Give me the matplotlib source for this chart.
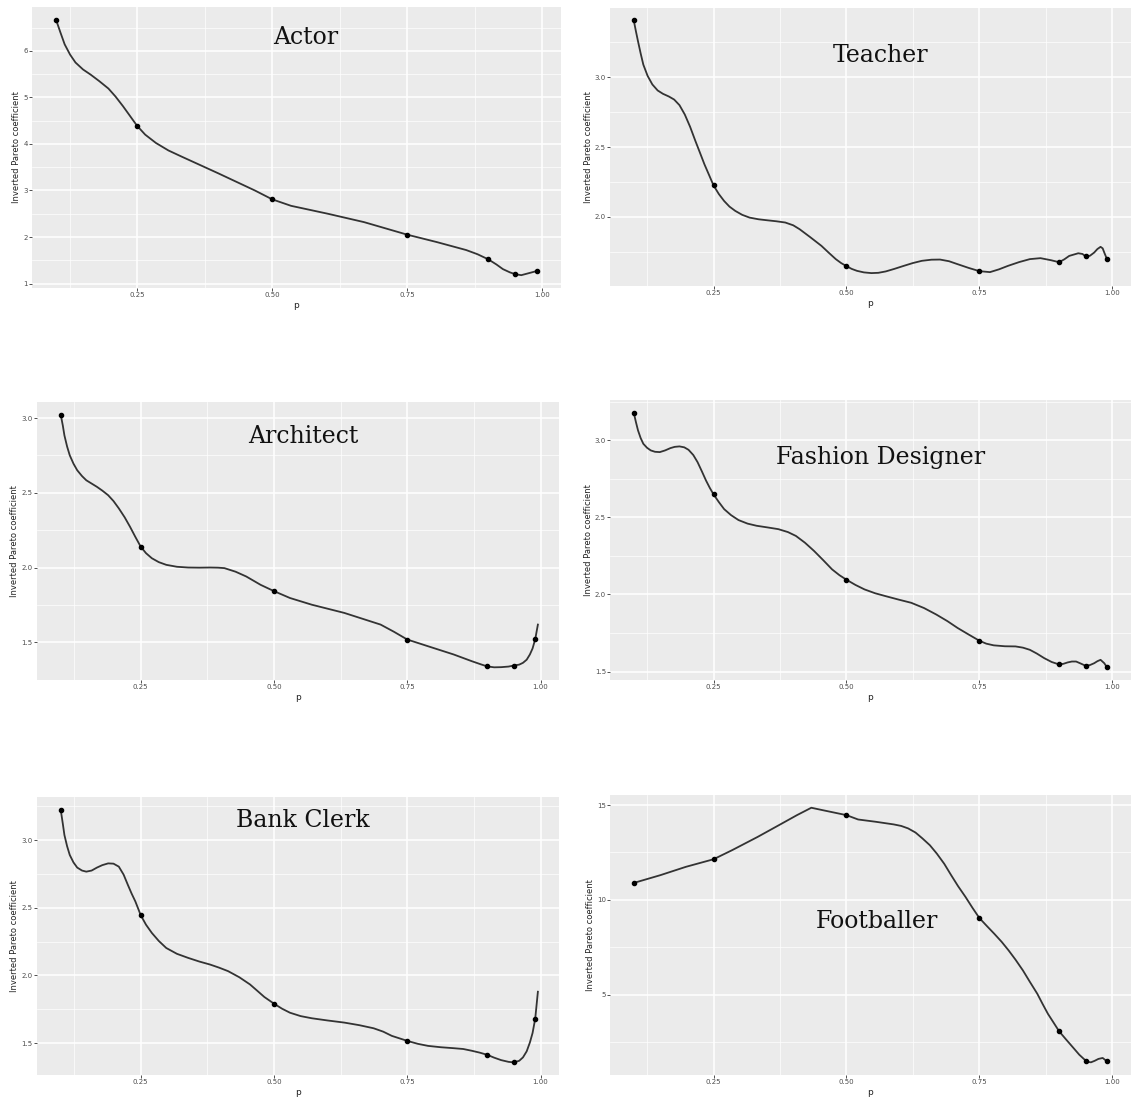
import numpy as np
import matplotlib.pyplot as plt
from matplotlib.ticker import FixedLocator

# quantile levels where the points sit
p_pts = [0.10, 0.25, 0.50, 0.75, 0.90, 0.95, 0.99]

# point values
actor_pts = [6.67, 4.39, 2.81, 2.05, 1.52, 1.20, 1.27]
teacher_pts = [3.407, 2.226, 1.648, 1.612, 1.676, 1.717, 1.698]
architect_pts = [3.024, 2.14, 1.842, 1.518, 1.338, 1.344, 1.52]
fashion_pts = [3.18, 2.65, 2.096, 1.70, 1.546, 1.537, 1.528]
clerk_pts = [3.225, 2.446, 1.792, 1.517, 1.414, 1.358, 1.681]
football_pts = [10.89, 12.14, 14.47, 9.04, 3.06, 1.51, 1.47]

# smoothed curves
actor_cx = [0.10, 0.108, 0.116, 0.126, 0.136, 0.15, 0.164, 0.18, 0.197, 0.21, 0.224, 0.237, 0.25,
            0.265, 0.285, 0.308, 0.332, 0.40, 0.468, 0.50, 0.535, 0.603, 0.67, 0.75, 0.805,
            0.859, 0.88, 0.90, 0.915, 0.927, 0.94, 0.95, 0.961, 0.974, 0.99]
actor_cy = [6.67, 6.40, 6.14, 5.92, 5.75, 5.60, 5.49, 5.35, 5.19, 5.02, 4.81, 4.60, 4.39,
            4.20, 4.02, 3.86, 3.73, 3.37, 3.00, 2.81, 2.67, 2.50, 2.32, 2.05, 1.89,
            1.72, 1.63, 1.52, 1.41, 1.31, 1.24, 1.20, 1.18, 1.22, 1.27]

teacher_cx = [0.10, 0.104, 0.108, 0.113, 0.118, 0.126, 0.135, 0.145, 0.155, 0.166, 0.176, 0.186,
              0.196, 0.206, 0.216, 0.225, 0.233, 0.242, 0.25, 0.26, 0.27, 0.28, 0.291,
              0.304, 0.318, 0.335, 0.351, 0.368, 0.385, 0.40, 0.412, 0.432, 0.453, 0.467, 0.48,
              0.49, 0.50, 0.51, 0.52, 0.533, 0.547, 0.56, 0.574, 0.59, 0.608, 0.625, 0.642,
              0.66, 0.676, 0.693, 0.709, 0.73, 0.75, 0.77, 0.787, 0.804, 0.825, 0.845, 0.865,
              0.885, 0.90, 0.91, 0.919, 0.936, 0.944, 0.95, 0.958, 0.966, 0.972, 0.978, 0.982,
              0.985, 0.99]
teacher_cy = [3.407, 3.33, 3.257, 3.17, 3.09, 3.01, 2.948, 2.905, 2.881, 2.862, 2.84, 2.80,
              2.733, 2.645, 2.543, 2.455, 2.376, 2.297, 2.226, 2.164, 2.114, 2.074, 2.043,
              2.015, 1.995, 1.983, 1.976, 1.969, 1.96, 1.94, 1.912, 1.855, 1.793, 1.743, 1.698,
              1.67, 1.648, 1.628, 1.614, 1.603, 1.598, 1.600, 1.61, 1.628, 1.65, 1.670, 1.686,
              1.694, 1.695, 1.683, 1.662, 1.635, 1.612, 1.605, 1.625, 1.65, 1.677, 1.698, 1.705,
              1.69, 1.676, 1.697, 1.721, 1.74, 1.735, 1.717, 1.722, 1.745, 1.770, 1.786, 1.775,
              1.745, 1.698]

architect_cx = [0.10, 0.104, 0.107, 0.112, 0.117, 0.124, 0.131, 0.14, 0.148, 0.158, 0.168, 0.178,
                0.189, 0.199, 0.209, 0.22, 0.23, 0.24, 0.25, 0.26, 0.271, 0.284, 0.298,
                0.318, 0.339, 0.36, 0.38, 0.395, 0.407, 0.428, 0.448, 0.462, 0.475, 0.50, 0.53,
                0.571, 0.632, 0.70, 0.725, 0.75, 0.789, 0.837, 0.871, 0.888, 0.90, 0.913, 0.926,
                0.94, 0.95, 0.96, 0.967, 0.974, 0.98, 0.985, 0.99, 0.995]
architect_cy = [3.024, 2.95, 2.884, 2.81, 2.751, 2.695, 2.651, 2.612, 2.584, 2.562, 2.54, 2.515,
                2.484, 2.445, 2.396, 2.336, 2.273, 2.205, 2.14, 2.096, 2.062, 2.036, 2.018,
                2.005, 2.0, 1.999, 2.0, 1.999, 1.996, 1.972, 1.94, 1.911, 1.884, 1.842, 1.796,
                1.751, 1.696, 1.618, 1.570, 1.518, 1.473, 1.418, 1.373, 1.352, 1.338, 1.332, 1.333,
                1.337, 1.344, 1.350, 1.362, 1.383, 1.418, 1.458, 1.52, 1.618]

fashion_cx = [0.10, 0.104, 0.108, 0.113, 0.118, 0.125, 0.132, 0.14, 0.149, 0.159, 0.169, 0.177,
              0.186, 0.195, 0.203, 0.212, 0.22, 0.228, 0.236, 0.243, 0.25, 0.26, 0.27,
              0.283, 0.297, 0.314, 0.331, 0.352, 0.372, 0.39, 0.405, 0.422, 0.439, 0.456, 0.473,
              0.487, 0.50, 0.517, 0.534, 0.554, 0.574, 0.598, 0.622, 0.646, 0.669, 0.69, 0.709,
              0.73, 0.75, 0.763, 0.777, 0.798, 0.818, 0.832, 0.845, 0.858, 0.872, 0.886, 0.90,
              0.908, 0.916, 0.924, 0.932, 0.942, 0.95, 0.958, 0.966, 0.972, 0.978, 0.985, 0.99]
fashion_cy = [3.18, 3.12, 3.065, 3.015, 2.978, 2.952, 2.935, 2.926, 2.924, 2.935, 2.95, 2.958,
              2.961, 2.955, 2.939, 2.905, 2.859, 2.80, 2.739, 2.692, 2.65, 2.60, 2.554,
              2.515, 2.483, 2.46, 2.446, 2.435, 2.424, 2.405, 2.38, 2.336, 2.283, 2.224, 2.163,
              2.125, 2.096, 2.062, 2.033, 2.008, 1.989, 1.967, 1.946, 1.912, 1.87, 1.827, 1.783,
              1.74, 1.70, 1.681, 1.67, 1.664, 1.663, 1.655, 1.641, 1.617, 1.587, 1.562, 1.546,
              1.550, 1.559, 1.565, 1.565, 1.550, 1.537, 1.542, 1.554, 1.567, 1.576, 1.554, 1.528]

clerk_cx = [0.10, 0.104, 0.107, 0.112, 0.117, 0.124, 0.131, 0.14, 0.148, 0.158, 0.168, 0.178,
            0.189, 0.199, 0.209, 0.218, 0.226, 0.233, 0.24, 0.245, 0.25, 0.26, 0.271, 0.284,
            0.298, 0.318, 0.339, 0.36, 0.38, 0.397, 0.414, 0.435, 0.455, 0.469, 0.482, 0.50,
            0.515, 0.53, 0.55, 0.571, 0.60, 0.632, 0.66, 0.687, 0.705, 0.721, 0.75, 0.77, 0.789,
            0.813, 0.837, 0.855, 0.871, 0.886, 0.90, 0.913, 0.926, 0.94, 0.95, 0.96, 0.967,
            0.974, 0.98, 0.985, 0.99, 0.995]
clerk_cy = [3.225, 3.12, 3.037, 2.955, 2.89, 2.835, 2.797, 2.775, 2.767, 2.775, 2.797, 2.815,
            2.828, 2.826, 2.804, 2.745, 2.669, 2.605, 2.547, 2.497, 2.446, 2.375, 2.314, 2.255,
            2.203, 2.16, 2.13, 2.103, 2.081, 2.058, 2.032, 1.987, 1.934, 1.886, 1.841, 1.792,
            1.755, 1.725, 1.700, 1.684, 1.668, 1.652, 1.633, 1.61, 1.585, 1.554, 1.517, 1.495, 1.48,
            1.470, 1.463, 1.457, 1.444, 1.430, 1.414, 1.393, 1.375, 1.362, 1.358, 1.370, 1.395,
            1.44, 1.505, 1.575, 1.681, 1.88]

football_cx = [0.10, 0.15, 0.198, 0.25, 0.285, 0.333, 0.373, 0.407, 0.434, 0.454, 0.50, 0.522,
               0.555, 0.589, 0.603, 0.616, 0.63, 0.643, 0.657, 0.67, 0.684, 0.697, 0.71, 0.724,
               0.737, 0.75, 0.764, 0.778, 0.792, 0.805, 0.818, 0.832, 0.845, 0.859, 0.869,
               0.879, 0.89, 0.90, 0.913, 0.926, 0.938, 0.95, 0.955, 0.96, 0.967, 0.974, 0.982, 0.99]
football_cy = [10.89, 11.30, 11.74, 12.14, 12.62, 13.32, 13.94, 14.47, 14.86, 14.74, 14.47, 14.24,
               14.12, 13.98, 13.90, 13.77, 13.55, 13.24, 12.88, 12.44, 11.90, 11.30, 10.72, 10.15,
               9.58, 9.04, 8.62, 8.21, 7.78, 7.33, 6.84, 6.27, 5.67, 5.04, 4.50,
               3.98, 3.50, 3.06, 2.63, 2.21, 1.82, 1.51, 1.44, 1.42, 1.50, 1.60, 1.65, 1.47]

titles = ["Actor", "Teacher", "Architect", "Fashion Designer", "Bank Clerk", "Footballer"]
points = [actor_pts, teacher_pts, architect_pts, fashion_pts, clerk_pts, football_pts]
curves = [(actor_cx, actor_cy), (teacher_cx, teacher_cy), (architect_cx, architect_cy),
          (fashion_cx, fashion_cy), (clerk_cx, clerk_cy), (football_cx, football_cy)]
y_ticks = [[1, 2, 3, 4, 5, 6], [2.0, 2.5, 3.0], [1.5, 2.0, 2.5, 3.0],
           [1.5, 2.0, 2.5, 3.0], [1.5, 2.0, 2.5, 3.0], [5, 10, 15]]
y_fmt = ["{:.0f}", "{:.1f}", "{:.1f}", "{:.1f}", "{:.1f}", "{:.0f}"]
x_ticks = [0.25, 0.50, 0.75, 1.00]

# axes boxes (left, bottom, width, height) and title spots in axes fraction
boxes = [(0.0282, 0.738, 0.4665, 0.2557), (0.538, 0.740, 0.459, 0.2530),
         (0.0326, 0.3813, 0.4603, 0.2530), (0.538, 0.3813, 0.459, 0.2548),
         (0.0326, 0.0218, 0.4603, 0.2530), (0.538, 0.0218, 0.459, 0.2548)]
title_pos = [(0.518, 0.89), (0.519, 0.827), (0.51, 0.874),
             (0.519, 0.796), (0.51, 0.914), (0.513, 0.55)]

fig = plt.figure(figsize=(11.34, 10.99), dpi=100)

for i in range(6):
    ax = fig.add_axes(boxes[i])
    ax.set_facecolor('#EBEBEB')
    for s in ax.spines.values():
        s.set_visible(False)

    cx, cy = curves[i]
    ax.plot(cx, cy, color='#333333', lw=1.3, zorder=3, solid_joinstyle='round')
    ax.scatter(p_pts, points[i], s=9, color='black', zorder=4)

    allv = list(cy) + list(points[i])
    lo, hi = min(allv), max(allv)
    pad = 0.05 * (hi - lo)
    ax.set_ylim(lo - pad, hi + pad)
    ax.set_xlim(0.1 - 0.0445, 0.99 + 0.0445)

    ax.set_xticks(x_ticks)
    ax.set_xticklabels(["{:.2f}".format(t) for t in x_ticks])
    yt = y_ticks[i]
    ax.set_yticks(yt)
    ax.set_yticklabels([y_fmt[i].format(t) for t in yt])
    ax.xaxis.set_minor_locator(FixedLocator([0.125, 0.375, 0.625, 0.875]))
    step = yt[1] - yt[0]
    ax.yaxis.set_minor_locator(FixedLocator([t - step / 2 for t in yt] + [yt[-1] + step / 2]))

    ax.grid(which='major', color='white', lw=1.1)
    ax.grid(which='minor', color='white', lw=0.5)
    ax.set_axisbelow(True)
    ax.tick_params(which='major', length=2, width=0.6, color='#333333',
                   labelsize=5, labelcolor='#4D4D4D', pad=1)
    ax.tick_params(which='minor', length=0)

    ax.set_xlabel('p', fontsize=6.5, color='#222222', labelpad=2)
    ax.set_ylabel('Inverted Pareto coefficient', fontsize=6, color='#222222', labelpad=1.5)

    ax.text(title_pos[i][0], title_pos[i][1], titles[i], transform=ax.transAxes,
            ha='center', va='center', fontsize=17, family='DejaVu Serif', color='#111111')

plt.savefig('out.png', dpi=100)
